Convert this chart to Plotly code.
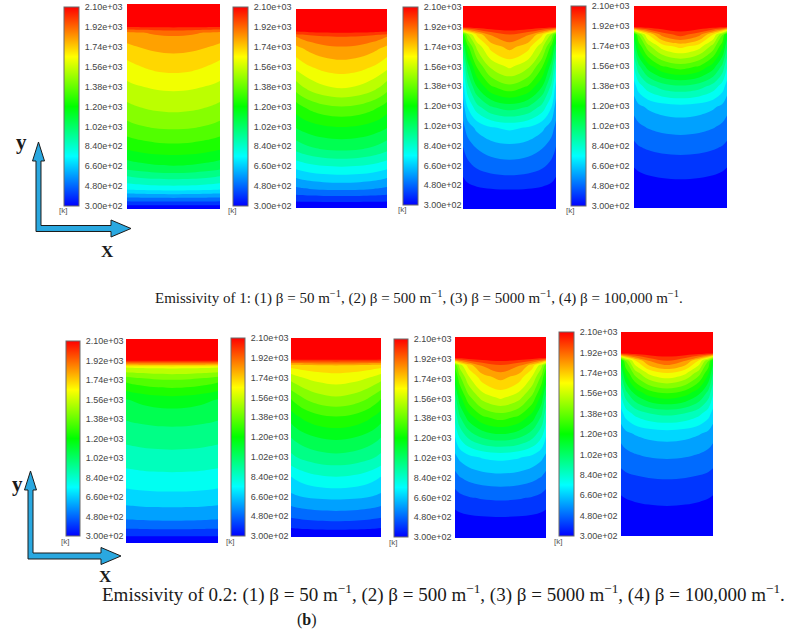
import plotly.graph_objects as go

W, H = 791, 634

# ---------------- data (temperatures in K read from the contour maps) ----------------
# grid: columns at half-width positions (mirrored about the centre), rows at heights
x_half = [0.0, 0.05, 0.15, 0.30, 0.50]
h_rows = [0.0, 0.05, 0.10, 0.20, 0.30, 0.40, 0.50, 0.60, 0.70, 0.80, 0.86, 0.90, 1.00]

# Emissivity 1
T_e1_b50 = [
    [300, 300, 300, 300, 300],
    [540, 542, 545, 548, 550],
    [770, 776, 785, 795, 800],
    [1040, 1050, 1065, 1082, 1090],
    [1220, 1229, 1243, 1258, 1265],
    [1350, 1359, 1373, 1388, 1395],
    [1450, 1460, 1475, 1492, 1500],
    [1540, 1548, 1560, 1574, 1580],
    [1620, 1634, 1655, 1679, 1690],
    [1730, 1739, 1753, 1768, 1775],
    [1800, 1810, 1825, 1842, 1850],
    [2100, 2100, 2100, 2100, 2100],
    [2100, 2100, 2100, 2100, 2100],
]
T_e1_b500 = [
    [300, 300, 300, 300, 300],
    [440, 442, 446, 449, 450],
    [558, 567, 581, 594, 600],
    [760, 774, 795, 814, 823],
    [960, 979, 1007, 1033, 1046],
    [1107, 1125, 1152, 1176, 1188],
    [1233, 1261, 1303, 1342, 1361],
    [1409, 1442, 1491, 1536, 1558],
    [1570, 1595, 1633, 1667, 1684],
    [1705, 1728, 1763, 1794, 1810],
    [1828, 1848, 1878, 1905, 1918],
    [2100, 2100, 2100, 2100, 2100],
    [2100, 2100, 2100, 2100, 2100],
]
T_e1_b5000 = [
    [300, 300, 300, 300, 300],
    [320, 326, 332, 338, 340],
    [355, 367, 380, 390, 395],
    [414, 447, 482, 510, 523],
    [475, 522, 573, 614, 633],
    [543, 611, 683, 741, 768],
    [617, 750, 892, 1008, 1061],
    [710, 902, 1106, 1272, 1349],
    [840, 1061, 1296, 1487, 1575],
    [1046, 1265, 1498, 1688, 1775],
    [1258, 1459, 1673, 1848, 1928],
    [2100, 2100, 2100, 2100, 2100],
    [2100, 2100, 2100, 2100, 2100],
]
T_e1_b100000 = [
    [300, 300, 300, 300, 300],
    [305, 310, 314, 318, 320],
    [330, 339, 349, 356, 360],
    [390, 402, 415, 426, 431],
    [458, 474, 490, 504, 510],
    [526, 550, 576, 597, 607],
    [602, 637, 673, 703, 717],
    [704, 793, 888, 964, 1000],
    [850, 996, 1152, 1279, 1337],
    [1033, 1226, 1432, 1600, 1677],
    [1160, 1402, 1659, 1868, 1965],
    [2100, 2100, 2100, 2100, 2100],
    [2100, 2100, 2100, 2100, 2100],
]
# Emissivity 0.2
T_e02_b50 = [
    [300, 300, 300, 300, 300],
    [435, 436, 437, 438, 438],
    [548, 550, 553, 556, 557],
    [680, 683, 688, 693, 695],
    [785, 788, 793, 798, 800],
    [868, 871, 877, 882, 885],
    [943, 947, 953, 960, 963],
    [1020, 1025, 1032, 1040, 1044],
    [1100, 1111, 1128, 1147, 1156],
    [1320, 1332, 1350, 1370, 1380],
    [1560, 1563, 1568, 1573, 1575],
    [2100, 2100, 2100, 2100, 2100],
    [2100, 2100, 2100, 2100, 2100],
]
T_e02_b500 = [
    [300, 300, 300, 300, 300],
    [400, 405, 412, 419, 422],
    [485, 493, 505, 516, 521],
    [638, 647, 661, 673, 679],
    [745, 765, 795, 822, 835],
    [905, 924, 953, 980, 993],
    [1020, 1044, 1079, 1111, 1127],
    [1145, 1175, 1220, 1261, 1281],
    [1300, 1335, 1389, 1437, 1461],
    [1505, 1528, 1563, 1594, 1610],
    [1680, 1688, 1700, 1711, 1717],
    [2100, 2100, 2100, 2100, 2100],
    [2100, 2100, 2100, 2100, 2100],
]
T_e02_b5000 = [
    [300, 300, 300, 300, 300],
    [320, 328, 336, 342, 345],
    [355, 364, 374, 381, 385],
    [438, 455, 473, 488, 495],
    [535, 564, 594, 619, 630],
    [637, 678, 721, 756, 772],
    [746, 842, 944, 1027, 1065],
    [866, 1004, 1151, 1270, 1325],
    [990, 1167, 1356, 1509, 1580],
    [1180, 1357, 1546, 1699, 1770],
    [1330, 1506, 1695, 1847, 1918],
    [2100, 2100, 2100, 2100, 2100],
    [2100, 2100, 2100, 2100, 2100],
]
T_e02_b100000 = [
    [300, 300, 300, 300, 300],
    [305, 310, 314, 318, 320],
    [330, 339, 349, 356, 360],
    [390, 400, 410, 419, 423],
    [458, 469, 482, 491, 496],
    [527, 546, 567, 583, 591],
    [605, 634, 665, 690, 702],
    [715, 787, 864, 926, 955],
    [853, 985, 1126, 1241, 1294],
    [1027, 1217, 1419, 1584, 1660],
    [1160, 1390, 1634, 1833, 1925],
    [2100, 2100, 2100, 2100, 2100],
    [2100, 2100, 2100, 2100, 2100],
]

cbar_ticks = [300, 480, 660, 840, 1020, 1200, 1380, 1560, 1740, 1920, 2100]
cbar_labels = ["3.00e+02", "4.80e+02", "6.60e+02", "8.40e+02", "1.02e+03", "1.20e+03",
               "1.38e+03", "1.56e+03", "1.74e+03", "1.92e+03", "2.10e+03"]
T_min, T_max = 300, 2100

caption_1 = ("Emissivity of 1: (1) β = 50 m<sup>−1</sup>, (2) β = 500 m<sup>−1</sup>, "
             "(3) β = 5000 m<sup>−1</sup>, (4) β = 100,000 m<sup>−1</sup>.")
caption_2 = ("Emissivity of 0.2: (1) β = 50 m<sup>−1</sup>, (2) β = 500 m<sup>−1</sup>, "
             "(3) β = 5000 m<sup>−1</sup>, (4) β = 100,000 m<sup>−1</sup>.")

# ---------------- styling / layout ----------------
fluent = [[0.0, "rgb(0,0,255)"], [0.25, "rgb(0,255,255)"], [0.5, "rgb(0,255,0)"],
          [0.75, "rgb(255,255,0)"], [1.0, "rgb(255,0,0)"]]

def fx(px):
    return px / W

def fy(py):
    return 1 - py / H

# (field, plot rect px (x0,x1,y0,y1), colorbar rect px (x0,x1,y0,y1))
panels = [
    (T_e1_b50, (127, 220, 4, 209), (64, 79, 7, 206)),
    (T_e1_b500, (296, 387, 9, 208), (233, 248, 7, 206)),
    (T_e1_b5000, (463, 556, 6, 209), (403, 418, 7, 205)),
    (T_e1_b100000, (634, 727, 6, 208), (571, 586, 6, 206)),
    (T_e02_b50, (126, 218, 339, 543), (66, 80, 341, 536)),
    (T_e02_b500, (291, 381, 338, 537), (231, 245, 338, 536)),
    (T_e02_b5000, (455, 546, 337, 538), (394, 408, 339, 537)),
    (T_e02_b100000, (621, 713, 332, 536), (559, 574, 332, 536)),
]

x_full = x_half + [round(1 - v, 3) for v in x_half[-2::-1]]

fig = go.Figure()
annotations = []
layout_axes = {}
for i, (T, (x0, x1, y0, y1), (cx0, cx1, cy0, cy1)) in enumerate(panels, start=1):
    z = [row + row[-2::-1] for row in T]
    sfx = "" if i == 1 else str(i)
    xa, ya = "x" + sfx, "y" + sfx
    fig.add_trace(go.Contour(
        x=x_full, y=h_rows, z=z, xaxis=xa, yaxis=ya,
        colorscale=fluent,
        contours=dict(start=390, end=2010, size=90, coloring="fill", showlines=False),
        line=dict(width=0, smoothing=1.0),
        showscale=False, hoverinfo="skip",
    ))
    fig.add_trace(go.Scatter(
        x=[-5], y=[-5], xaxis=xa, yaxis=ya, mode="markers", hoverinfo="skip",
        showlegend=False,
        marker=dict(size=1, color=[T_min], cmin=T_min, cmax=T_max, colorscale=fluent,
                    showscale=True,
                    colorbar=dict(
                        thicknessmode="pixels", thickness=cx1 - cx0,
                        lenmode="pixels", len=cy1 - cy0,
                        x=fx(cx0), xanchor="left", y=fy(cy0), yanchor="top",
                        xpad=0, ypad=0, outlinewidth=1, outlinecolor="#6a6a6a",
                        borderwidth=0,
                        tickmode="array", tickvals=cbar_ticks, ticktext=cbar_labels,
                        ticks="outside", ticklen=4, tickcolor="rgba(0,0,0,0)",
                        tickfont=dict(family="Liberation Sans, Arial", size=9, color="#444"),
                    )),
    ))
    layout_axes["xaxis" + sfx] = dict(domain=[fx(x0), fx(x1)], range=[0, 1], visible=False,
                                      anchor=ya, fixedrange=True)
    layout_axes["yaxis" + sfx] = dict(domain=[fy(y1), fy(y0)], range=[0, 1], visible=False,
                                      anchor=xa, fixedrange=True)
    annotations.append(dict(text="[k]", x=fx(cx0 - 7), y=fy(cy1 + 5), xref="paper",
                            yref="paper", xanchor="left", yanchor="middle", showarrow=False,
                            font=dict(family="Liberation Sans, Arial", size=8, color="#555")))


def path_px(pts):
    return "M " + " L ".join(f"{fx(a):.5f},{fy(b):.5f}" for a, b in pts) + " Z"


arrow_top = [(38.5, 142), (44.5, 161), (41, 161), (41, 225.5), (111, 225.5), (111, 220),
             (131, 228.5), (111, 237), (111, 231.5), (36, 231.5), (36, 161), (32.5, 161)]
arrow_bot = [(30.5, 471), (36.5, 490), (33, 490), (33, 553), (101, 553), (101, 547.5),
             (121, 556), (101, 564.5), (101, 559), (28, 559), (28, 490), (24.5, 490)]
shapes = [dict(type="path", xref="paper", yref="paper", path=path_px(p),
               fillcolor="#2aa8e0", line=dict(color="#1b1b1b", width=1))
          for p in (arrow_top, arrow_bot)]


def note(text, px, py, size, family="Liberation Serif, Times New Roman, serif",
         color="#1a1a1a", xanchor="center"):
    annotations.append(dict(text=text, x=fx(px), y=fy(py), xref="paper", yref="paper",
                            xanchor=xanchor, yanchor="middle", showarrow=False,
                            font=dict(family=family, size=size, color=color)))


note("<b>y</b>", 21, 142, 21)
note("<b>X</b>", 107, 252, 17)
note("<b>y</b>", 17, 484, 21)
note("<b>X</b>", 105, 576, 17)
note(caption_1, 419, 297, 15)
note(caption_2, 443, 593, 19)
note("(<b>b</b>)", 307, 620, 16)

fig.update_layout(
    width=W, height=H, margin=dict(l=0, r=0, t=0, b=0),
    paper_bgcolor="white", plot_bgcolor="white", showlegend=False,
    annotations=annotations, shapes=shapes, **layout_axes,
)

fig.write_html("out.html", config={"displayModeBar": False},
               post_script="document.body.style.margin='0';")
